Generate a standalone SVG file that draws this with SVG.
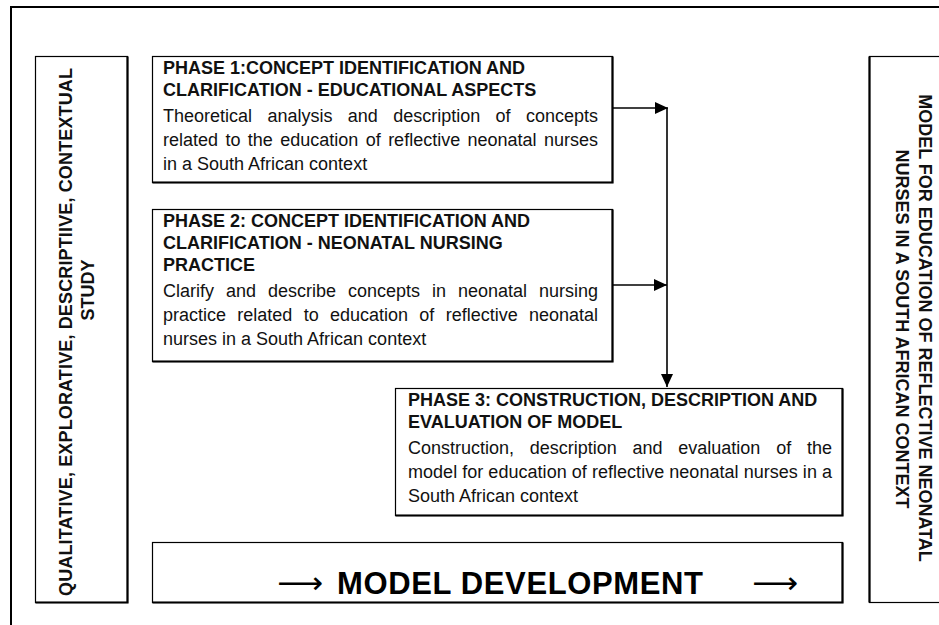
<svg xmlns="http://www.w3.org/2000/svg" width="939" height="625" viewBox="0 0 939 625">
  <style>
    .box { fill: #ffffff; stroke: #000000; stroke-width: 1.2; }
    .shadow { fill: none; stroke: #000000; stroke-width: 2.2; }
    .frame { fill: none; stroke: #000000; stroke-width: 2; }
    .title { font-family: "Liberation Sans", Arial, sans-serif; font-size: 18px; font-weight: bold; fill: #111111; }
    .body { font-family: "Liberation Sans", Arial, sans-serif; font-size: 18px; fill: #111111; }
    .side { font-family: "Liberation Sans", Arial, sans-serif; font-size: 18px; font-weight: bold; fill: #111111; text-anchor: middle; }
    .big { font-family: "Liberation Sans", Arial, sans-serif; font-size: 31px; font-weight: bold; fill: #000000; }
    .arr { font-family: "DejaVu Sans", sans-serif; font-size: 30px; fill: #000000; }
    .conn { fill: none; stroke: #000000; stroke-width: 1.6; }
  </style>
  <defs>
    <marker id="head" viewBox="0 0 13 12" refX="13" refY="6" markerWidth="13" markerHeight="12" markerUnits="userSpaceOnUse" orient="auto">
      <path d="M0,0 L13,6 L0,12 Z" fill="#000000"/>
    </marker>
  </defs>

  <rect width="939" height="625" fill="#ffffff"/>

  <!-- outer frame: top and left rules -->
  <path class="frame" d="M11,625 V7 H939"/>

  <!-- left side label -->
  <g id="study-type">
    <rect class="box" x="35.5" y="56.5" width="92" height="546"/>
    <path class="shadow" d="M127.5,56.5 V602.5 H35.5"/>
    <text class="side" transform="translate(72,332) rotate(-90)" textLength="528">QUALITATIVE, EXPLORATIVE, DESCRIPTIIVE, CONTEXTUAL</text>
    <text class="side" transform="translate(94,290) rotate(-90)">STUDY</text>
  </g>

  <!-- phase 1 -->
  <g id="phase1">
    <rect class="box" x="152.5" y="56.5" width="460" height="126"/>
    <path class="shadow" d="M612.5,56.5 V182.5 H152.5"/>
    <text class="title" x="163" y="74">PHASE 1:CONCEPT IDENTIFICATION AND</text>
    <text class="title" x="163" y="96">CLARIFICATION - EDUCATIONAL ASPECTS</text>
    <text class="body" x="163" y="122" word-spacing="10.4" textLength="435">Theoretical analysis and description of concepts</text>
    <text class="body" x="163" y="146" word-spacing="2.4" textLength="435">related to the education of reflective neonatal nurses</text>
    <text class="body" x="163" y="170">in a South African context</text>
  </g>

  <!-- phase 2 -->
  <g id="phase2">
    <rect class="box" x="152.5" y="209.5" width="460" height="152"/>
    <path class="shadow" d="M612.5,209.5 V361.5 H152.5"/>
    <text class="title" x="163" y="227">PHASE 2: CONCEPT IDENTIFICATION AND</text>
    <text class="title" x="163" y="249">CLARIFICATION - NEONATAL NURSING</text>
    <text class="title" x="163" y="271">PRACTICE</text>
    <text class="body" x="163" y="297" word-spacing="7" textLength="435">Clarify and describe concepts in neonatal nursing</text>
    <text class="body" x="163" y="321" word-spacing="6.3" textLength="435">practice related to education of reflective neonatal</text>
    <text class="body" x="163" y="345">nurses in a South African context</text>
  </g>

  <!-- phase 3 -->
  <g id="phase3">
    <rect class="box" x="395.5" y="388.5" width="447" height="127"/>
    <path class="shadow" d="M842.5,388.5 V515.5 H395.5"/>
    <text class="title" x="408" y="406">PHASE 3: CONSTRUCTION, DESCRIPTION AND</text>
    <text class="title" x="408" y="428">EVALUATION OF MODEL</text>
    <text class="body" x="408" y="454" word-spacing="10.8" textLength="424">Construction, description and evaluation of the</text>
    <text class="body" x="408" y="478" textLength="424">model for education of reflective neonatal nurses in a</text>
    <text class="body" x="408" y="502">South African context</text>
  </g>

  <!-- model development banner -->
  <g id="model-development">
    <rect class="box" x="152.5" y="542.5" width="690" height="60"/>
    <path class="shadow" d="M842.5,542.5 V602.5 H152.5"/>
    <text class="arr" x="277" y="593" textLength="46" lengthAdjust="spacingAndGlyphs">⟶</text>
    <text class="big" x="337" y="594" textLength="366">MODEL DEVELOPMENT</text>
    <text class="arr" x="752" y="593" textLength="46" lengthAdjust="spacingAndGlyphs">⟶</text>
  </g>

  <!-- right side label -->
  <g id="outcome">
    <rect class="box" x="869.5" y="56.5" width="100" height="546"/>
    <path class="shadow" d="M869.5,56.5 V602.5"/>
    <text class="side" transform="translate(919,328) rotate(90)">MODEL FOR EDUCATION OF REFLECTIVE NEONATAL</text>
    <text class="side" transform="translate(896,329) rotate(90)">NURSES IN A SOUTH AFRICAN CONTEXT</text>
  </g>

  <!-- connectors -->
  <g id="connectors">
    <path class="conn" d="M613,108 H668" marker-end="url(#head)"/>
    <path class="conn" d="M613,285 H667" marker-end="url(#head)"/>
    <path class="conn" d="M667,108 V387" marker-end="url(#head)"/>
  </g>
</svg>
